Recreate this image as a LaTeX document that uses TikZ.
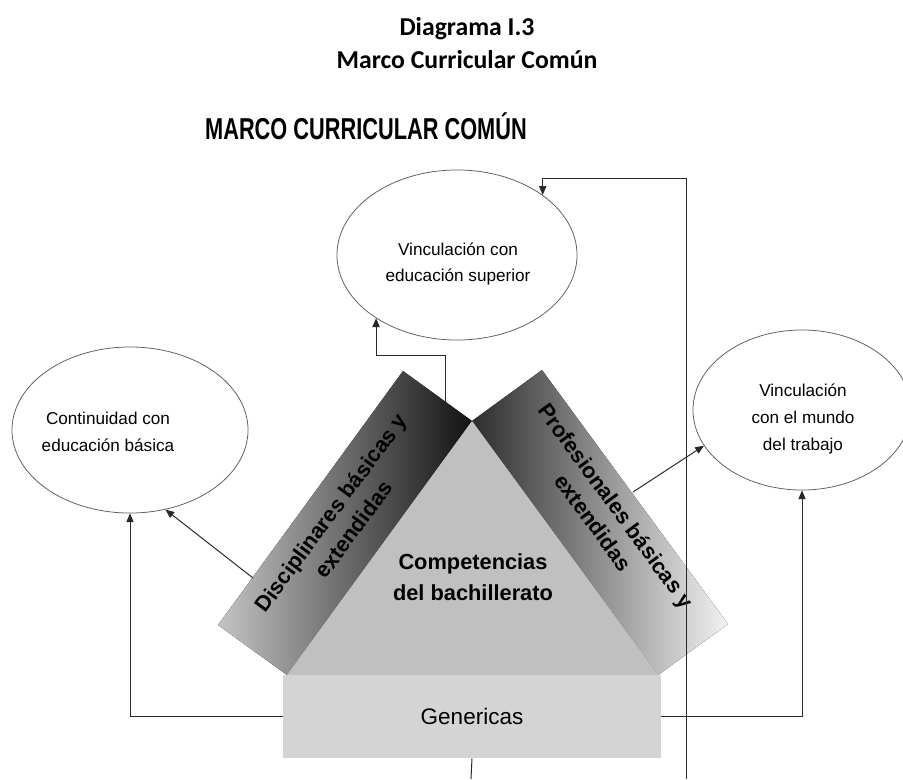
\documentclass[tikz,border=0pt]{standalone}
\usepackage{fontspec}
\setmainfont{Liberation Sans}
\newfontfamily\captionfont{Carlito}
\usetikzlibrary{arrows.meta,positioning,shapes.geometric,calc}
\definecolor{linegray}{RGB}{40,40,40}
\definecolor{rimgray}{RGB}{95,95,95}
\definecolor{coregray}{RGB}{192,192,192}
\definecolor{basegray}{RGB}{212,212,212}
\definecolor{bandlight}{RGB}{196,196,196}
\definecolor{banddark}{RGB}{18,18,18}
\definecolor{bandmid}{RGB}{45,45,45}
\definecolor{bandpale}{RGB}{242,242,242}
\tikzset{
  goal/.style={ellipse, draw=rimgray, line width=0.55pt, fill=white, inner sep=0pt},
  goaltext/.style={align=center, font=\fontsize{12.2}{19}\selectfont},
  bandtext/.style={align=center, font=\fontsize{15.5}{20}\selectfont\bfseries},
  conn/.style={-{Triangle[length=2.2mm,width=1.8mm]}, line width=0.7pt, draw=linegray},
  wire/.style={line width=0.7pt, draw=linegray},
}
\begin{document}
\begin{tikzpicture}[x=0.025cm, y=-0.025cm]
    \useasboundingbox (0,0) rectangle (903,779);
    \node[font=\captionfont\fontsize{18.3}{23.5}\selectfont\bfseries, align=center] (caption) at (467,43) {Diagrama I.3\\Marco Curricular Común};
    \node[font=\fontsize{21.5}{25}\selectfont\bfseries] (heading) at (366,126) {\scalebox{0.72}[1]{MARCO CURRICULAR COMÚN}};

    \coordinate (apex) at (472,421);
    \coordinate (bl) at (287,675);
    \coordinate (br) at (658,675);
    \fill[left color=bandlight, right color=banddark] (bl) -- (218,625) -- (403,371) -- (apex) -- cycle;
    \fill[left color=bandmid, right color=bandpale] (apex) -- (542,370) -- (728,624) -- (br) -- cycle;
    \fill[coregray] (apex) -- (br) -- (bl) -- cycle;

    \node[fill=basegray, minimum width=9.45cm, minimum height=2.075cm, inner sep=0pt,
          font=\fontsize{16}{19}\selectfont] (gen) at (472,716.5) {Genericas};
    \node[align=center, font=\fontsize{15.5}{22}\selectfont\bfseries] (core) at (473,577) {Competencias\\del bachillerato};
    \node[bandtext, rotate=53.6] (disc) at (342,521) {Disciplinares básicas y\\extendidas};
    \node[bandtext, rotate=-53.8] (prof) at (605,514) {Profesionales básicas y\\extendidas};

    \node[goal, minimum width=6cm, minimum height=4.25cm] (sup) at (457,255) {};
    \node[goal, minimum width=5.9cm, minimum height=4.15cm] (cont) at (130,430) {};
    \node[goal, minimum width=5.45cm, minimum height=4cm] (trab) at (802,410) {};
    \node[goaltext] (suptxt) at (458,264) {Vinculación con\\educación superior};
    \node[goaltext] (conttxt) at (108,432) {Continuidad con\\educación básica};
    \node[goaltext] (trabtxt) at (803,419) {Vinculación\\con el mundo\\del trabajo};

    \coordinate (discfoot) at (253,578);
    \coordinate (disctop) at (445,402);
    \coordinate (proffoot) at (633,492);
    \coordinate (railfoot) at (686,779);
    \coordinate (railtop) at (686,178);
    \coordinate (genfoot) at (471,779);

    \draw[conn] (gen.west) -| (cont.south);
    \draw[conn] (gen.east) -| (trab.south);
    \draw[conn] (discfoot) -- (cont.-66);
    \draw[conn] (proffoot) -- (trab.200);
    \draw[conn] (disctop) -- ++(0,-47) -| (sup.218);
    \draw[conn] (railfoot) -- (railtop) -| (sup.35);
    \draw[wire] (gen.south) -- (genfoot);
\end{tikzpicture}
\end{document}
